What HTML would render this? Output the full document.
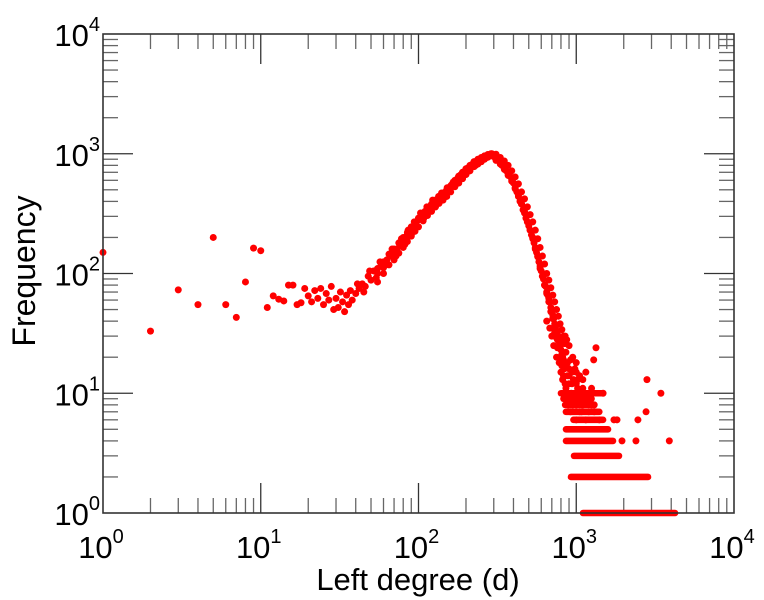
<!DOCTYPE html>
<html><head><meta charset="utf-8"><style>
html,body{margin:0;padding:0;background:#fff;}
svg{display:block;font-family:"Liberation Sans",Arial,sans-serif;}
</style></head><body>
<svg id="chart" width="764" height="600" viewBox="0 0 764 600" xmlns="http://www.w3.org/2000/svg">
<g id="ticks"></g>
<g id="labels"></g>
<g id="points"></g>
<rect x="103" y="34" width="631" height="479" fill="none" stroke="#333" stroke-width="1.6"/>
<text x="418" y="590" font-size="31" text-anchor="middle">Left degree (d)</text>
<text transform="translate(35,271) rotate(-90)" font-size="32" text-anchor="middle">Frequency</text>
</svg>
<script>
const xDecades = [0, 1, 2, 3, 4];
const yDecades = [0, 1, 2, 3, 4];
const degrees = [1,2,3,4,5,6,7,8,9,10,11,12,13,14,15,16,17,18,19,20,21,22,23,24,25,26,27,28,29,
30,31,32,33,34,35,36,37,38,40,42,44,46,48,50,52,55,58,60,63,66,70,73,76,80,84,88,92,96,100,105,110,115,120,125,130,136,142,148,155,162,170,178,186,195,205,215,225,235,245,255,265,275,285,292,
41,45,49,54,57,62,68,72,78,82,86,90,94,98,103,108,113,118,123,128,134,140,146,152,158,166,174,182,190,200,210,220,230,240,250,260,270,280,
300,315,330,345,360,380,400,420,440,460,480,500,520,540,560,580,600,620,640,660,680,700,720,740,760,780,800,820,850,880,900,930,960,1000,1050,
305,320,338,352,370,390,410,430,450,470,490,510,530,550,570,590,610,630,650,670,690,710,730,750,770,790,810,830,
650,680,700,720,730,750,760,780,800,820,840,860,870,890,900,920,940,950,980,1000,1020,1050,1080,1100,1120,1150,1200,1250,1150,1100,1300,1400,1000,950,900,870,850,1000,1050,
1334,1290,2807,3440,2770,1734,1813,2460,1479,1950,2390,3890,
55,60,65,70,75,80,85,90,95,100,107,114,121,128,135,143,151,160,170,180,190,200,212,225,238,250,262,275,288,
55,60,65,70,75,80,85,90,95,100,107,114,121,128,135,143,151,160,170,180,190,200,212,225,238,250,262,275,288,
310,330,350,370,390,410,430,450,470,490,510,530,550,570,590,610,630,650,670,690,710,730,750,770,790,810,830,850,
310,330,350,370,390,410,430,450,470,490,510,530,550,570,590,610,630,650,670,690,710,730,750,770,790,810,830,850,
830,860,880,900,920,940,960,980,1000,1020,1060,1100,1150,1200,1250,1300,760,790,810,840];
const freqs = [150,33,73,55,200,55,43,85,163,155,52,65,61,59,80,80,55,57,75,65,58,72,62,75,55,68,60,78,50,
62,52,70,58,48,66,55,72,60,68,75,82,78,95,88,105,100,120,112,130,140,150,160,175,190,205,230,245,265,280,300,330,350,370,380,400,420,450,480,510,550,590,630,670,710,760,800,840,870,900,920,950,970,990,1000,
82,70,105,92,125,118,160,140,195,175,230,210,270,245,320,290,360,340,410,360,440,470,450,520,490,580,560,650,620,740,720,820,800,880,860,940,930,960,
960,900,850,790,720,650,570,480,400,340,290,250,210,180,150,125,105,90,78,66,58,50,42,36,31,27,23,20,17,14,12,10,9,8,7,
930,880,800,760,680,610,520,450,380,330,270,230,200,160,140,110,95,80,70,62,52,45,38,33,28,25,21,18,
40,35,30,25,32,20,24,18,15,13,16,11,9,8,14,7,12,8,10,6,11,9,7,8,10,6,7,11,15,13,8,6,18,20,25,28,30,15,14,
24,19,13,10,7,6,6,6,10,4,4,4,
110,125,145,160,180,200,220,245,265,290,320,350,380,410,440,470,500,540,600,650,700,750,800,860,900,930,960,985,1000,
85,100,118,130,148,165,185,205,225,245,275,305,330,360,385,410,440,480,530,570,620,670,720,780,820,860,900,935,960,
990,930,870,800,720,640,560,480,420,360,310,270,230,195,165,140,120,100,88,76,66,58,50,44,38,34,30,26,
880,820,740,660,590,510,440,380,320,270,230,195,165,138,115,95,80,68,58,48,42,35,29,24,20,17,14,12,
19,22,18,16,19,15,13,16,12,13,10,11,9,9,8,7,28,24,29,26];
const runLevels = [10,9,8,7,6,5,4,3,2,1];
const runStart = [800,830,850,860,960,861,861,968,926,1104];
const runEnd = [1479,1250,1300,1400,1479,1590,1710,1866,2850,4225];

const X0=103, X1=734, Y0=513, Y1=34;
const xs = d => X0 + Math.log10(d)/4*(X1-X0);
const ys = f => Y0 - Math.log10(f)/4*(Y0-Y1);
const NS='http://www.w3.org/2000/svg';
const tg=document.getElementById('ticks'), lg=document.getElementById('labels'), pg=document.getElementById('points');
function mk(t,a){const e=document.createElementNS(NS,t);for(const k in a)e.setAttribute(k,a[k]);return e;}
for(let dec=0;dec<4;dec++){
  for(let m=1;m<=9;m++){
    const v=m*Math.pow(10,dec); if(m===1&&dec===0)continue;
    const len=m===1?30:15, col=m===1?'#333':'#666';
    const x=xs(v), y=ys(v);
    let l=mk('line',{x1:x,x2:x,y1:Y0,y2:Y0-len,stroke:col,'stroke-width':1.3});
      tg.appendChild(l);
    l=mk('line',{x1:x,x2:x,y1:Y1,y2:Y1+len,stroke:col,'stroke-width':1.3});
      tg.appendChild(l);
    l=mk('line',{x1:X0,x2:X0+len,y1:y,y2:y,stroke:col,'stroke-width':1.3});
      tg.appendChild(l);
    l=mk('line',{x1:X1,x2:X1-len,y1:y,y2:y,stroke:col,'stroke-width':1.3});
      tg.appendChild(l);
  }
}
xDecades.forEach(p=>{
  const t=mk('text',{x:xs(Math.pow(10,p))-2,y:558,'font-size':31,'text-anchor':'middle'});
   
  t.innerHTML='10<tspan font-size="20" dy="-15">'+p+'</tspan>'; lg.appendChild(t);
});
yDecades.forEach(p=>{
  const t=mk('text',{x:100,y:ys(Math.pow(10,p))+12,'font-size':31,'text-anchor':'end'});
   
  t.innerHTML='10<tspan font-size="20" dy="-15">'+p+'</tspan>'; lg.appendChild(t);
});
runLevels.forEach((f,i)=>{
  const l=mk('line',{x1:xs(runStart[i]),x2:xs(runEnd[i]),y1:ys(f),y2:ys(f),stroke:'#ff0000','stroke-width':6.6,'stroke-linecap':'round'});
    pg.appendChild(l);
});
degrees.forEach((d,i)=>{
  const c=mk('circle',{cx:xs(d),cy:ys(freqs[i]),r:3.5,fill:'#ff0000'});
    pg.appendChild(c);
});
</script>
</body></html>
